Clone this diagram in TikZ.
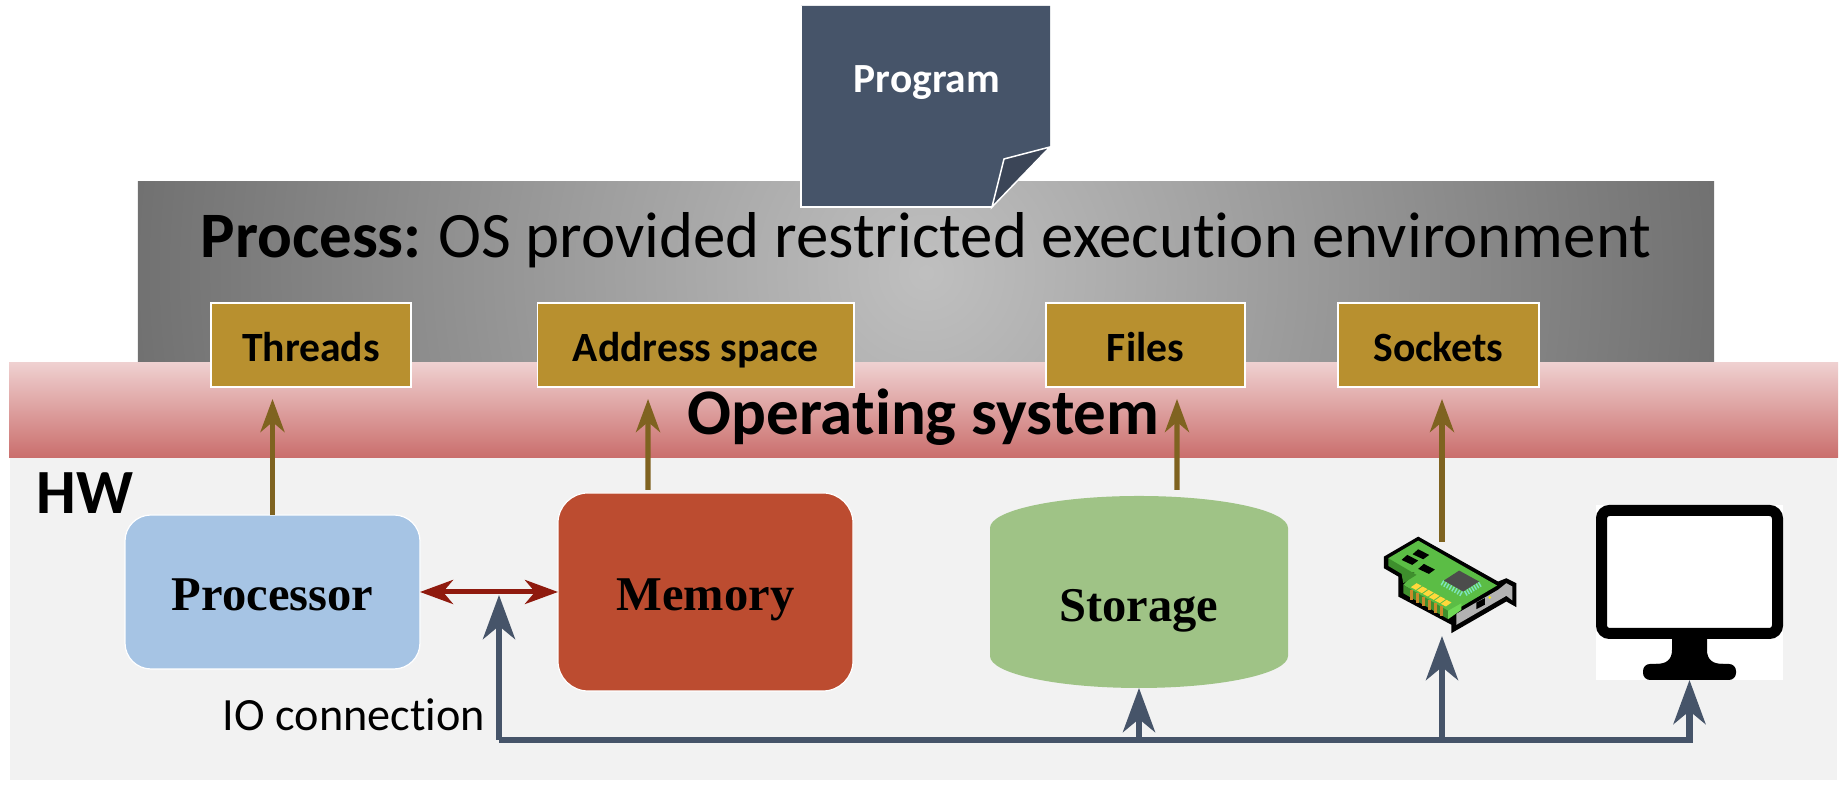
\documentclass[tikz,border=0pt]{standalone}
\usepackage{fontspec}
\usepackage{tikz}
\usetikzlibrary{arrows.meta}

\setmainfont{Carlito}[Ligatures=NoCommon]
\newfontfamily\hwserif{Liberation Serif}

\definecolor{noteblue}{HTML}{465469}
\definecolor{foldblue}{HTML}{3B4557}
\definecolor{gatebrown}{HTML}{7F6320}
\definecolor{gategold}{HTML}{B8902F}
\definecolor{linkred}{HTML}{8F1A0E}
\definecolor{ostop}{HTML}{EFD0D0}
\definecolor{osbottom}{HTML}{CA6E6C}
\definecolor{hwgrey}{HTML}{F2F2F2}
\definecolor{procblue}{HTML}{A6C4E4}
\definecolor{memred}{HTML}{BC4C30}
\definecolor{diskgreen}{HTML}{9FC386}
\definecolor{nicgreen}{HTML}{5BBD45}
\definecolor{nicdark}{HTML}{3E8F2D}
\definecolor{niclight}{HTML}{6FD855}
\definecolor{nicpin}{HTML}{7FE5C0}
\definecolor{nicgold}{HTML}{FFD83B}
\definecolor{nicorange}{HTML}{C88A2A}

\tikzset{
  plainbox/.style={inner sep=0, outer sep=0},
  gatebox/.style={plainbox, fill=gategold, draw=white, line width=0.015cm, minimum height=0.84cm,
    text height=0.44cm, text depth=0.10cm, font=\fontsize{11.85}{14}\selectfont\bfseries},
  hwbox/.style={plainbox, draw=white, line width=0.012cm, text height=0.48cm, text depth=0.10cm,
    font=\fontsize{13.8}{16}\selectfont\hwserif\bfseries},
  baselabel/.style={inner sep=0, anchor=base},
  gatelink/.style={draw=gatebrown, line width=0.053cm, -{Stealth[length=0.33cm, width=0.24cm, inset=0.10cm]}},
  memlink/.style={draw=linkred, line width=0.05cm, {Stealth[length=0.33cm, width=0.24cm, inset=0.10cm]}-{Stealth[length=0.33cm, width=0.24cm, inset=0.10cm]}},
  iolink/.style={draw=noteblue, line width=0.065cm, -{Stealth[length=0.44cm, width=0.32cm, inset=0.13cm]}}
}

\begin{document}
\begin{tikzpicture}

\useasboundingbox ( 0, 0 ) rectangle ( 18.46, 7.86 );

% Process
\node (process) at ( 9.26, 5.135 ) [plainbox, minimum width=15.76cm, minimum height=1.81cm,
  path picture={\shade [inner color=black!25, outer color=black!56] (path picture bounding box.center) circle (8cm);}] {};

% Hardware and OS bands
\node (hwband) at ( 9.235, 1.67 ) [plainbox, fill=hwgrey, minimum width=18.27cm, minimum height=3.22cm] {};
\node (osband) at ( 9.235, 3.755 ) [plainbox, top color=ostop, bottom color=osbottom, minimum width=18.29cm, minimum height=0.95cm] {};

% Program note
\fill [noteblue] ( 8.01, 5.79 ) -- ( 8.01, 7.80 ) -- ( 10.50, 7.80 ) -- ( 10.50, 6.39 ) -- ( 9.92, 5.79 ) -- cycle;
\draw [white, line width=0.02cm] ( 8.01, 7.80 ) -- ( 8.01, 5.79 ) -- ( 9.92, 5.79 );
\filldraw [fill=foldblue, draw=white, line width=0.015cm] ( 9.92, 5.79 ) -- ( 10.04, 6.27 ) -- ( 10.50, 6.39 ) -- cycle;
\node (program) at ( 9.27, 6.93 ) [baselabel, text=white, font=\fontsize{11.8}{14}\selectfont\bfseries] {Program};

% Labels on the bands
\node (processlabel) at ( 9.26, 5.28 ) [baselabel, font=\fontsize{18.45}{22}\selectfont] {\textbf{Process:}\hspace{-0.03cm} OS provided restricted execution environment};
\node (oslabel) at ( 9.235, 3.51 ) [baselabel, font=\fontsize{18.5}{22}\selectfont\bfseries] {Operating system};
\node (hwlabel) at ( 0.85, 2.72 ) [baselabel, font=\fontsize{17.9}{20}\selectfont\bfseries] {HW};

% Process resources
\node (threads) at ( 3.11, 4.41 ) [gatebox, minimum width=2.00cm] {Threads};
\node (address) at ( 6.958, 4.41 ) [gatebox, minimum width=3.165cm] {Address space};
\node (files) at ( 11.455, 4.41 ) [gatebox, minimum width=1.99cm] {Files};
\node (sockets) at ( 14.385, 4.41 ) [gatebox, minimum width=2.01cm] {Sockets};

% Hardware
\node (processor) at ( 2.725, 1.94 ) [hwbox, fill=procblue, minimum width=2.95cm, minimum height=1.54cm, rounded corners=0.26cm] {Processor};
\node (memory) at ( 7.055, 1.94 ) [hwbox, fill=memred, minimum width=2.95cm, minimum height=1.98cm, rounded corners=0.30cm] {Memory};
\fill [diskgreen] ( 9.90, 2.58 ) arc [start angle=180, end angle=0, x radius=1.49, y radius=0.32] -- ( 12.88, 1.30 ) arc [start angle=0, end angle=-180, x radius=1.49, y radius=0.32] -- cycle;
\node (storage) at ( 11.39, 1.94 ) [plainbox, minimum width=2.98cm, minimum height=1.92cm] {};
\node (storagelabel) at ( 11.39, 1.64 ) [baselabel, font=\fontsize{13.8}{16}\selectfont\hwserif\bfseries] {Storage};
\node (iolabel) at ( 3.54, 0.55 ) [baselabel, font=\fontsize{13.15}{16}\selectfont] {IO connection};

% Network card
\node (nic) at ( 14.42, 1.97 ) [plainbox, minimum width=1.0cm, minimum height=0.94cm] {};
\begin{scope}[shift={( 13.70, 2.56 )}, x=0.003333cm, y=-0.003333cm]
\fill [black] ( 42, 80 ) -- ( 145, 20 ) -- ( 385, 155 ) -- ( 410, 145 ) -- ( 440, 160 ) -- ( 440, 232 ) -- ( 410, 215 ) -- ( 245, 310 ) -- ( 245, 285 ) -- ( 85, 200 ) -- ( 85, 140 ) -- ( 42, 115 ) -- cycle;
\fill [nicgreen] ( 55, 85 ) -- ( 145, 32 ) -- ( 382, 167 ) -- ( 262, 238 ) -- ( 232, 250 ) -- ( 100, 165 ) -- ( 135, 128 ) -- ( 95, 128 ) -- cycle;
\fill [nicdark] ( 55, 85 ) -- ( 55, 108 ) -- ( 95, 132 ) -- ( 100, 160 ) -- ( 140, 135 ) -- cycle;
\fill [nicdark] ( 100, 165 ) -- ( 100, 190 ) -- ( 235, 268 ) -- ( 235, 243 ) -- cycle;
\fill [niclight] ( 235, 243 ) -- ( 275, 220 ) -- ( 275, 240 ) -- ( 235, 268 ) -- cycle;
\foreach \slotx/\sloty in { 128/73, 95/90, 145/117 } {
  \fill [black] ( \slotx, \sloty ) -- ++( 17, -15 ) -- ++( 33, 17 ) -- ++( -18, 13 ) -- cycle;
}
\foreach \pinstep in { 0, 1, ..., 5 } {
  \fill [nicorange] ( 120 + \pinstep * 18, 180 + \pinstep * 10 ) rectangle ++( 8, 30 );
  \fill [nicgold] ( 123 + \pinstep * 18, 172 + \pinstep * 10 ) -- ++( 17, -12 ) -- ++( 15, 8 ) -- ++( -17, 12 ) -- cycle;
}
\foreach \pinstep in { 0, 1, ..., 7 } {
  \draw [nicpin, line width=0.014cm] ( 222 + \pinstep * 8, 152 + \pinstep * 4.6 ) -- ++( -8, 14 );
}
\foreach \pinstep in { 0, 1, ..., 6 } {
  \draw [nicpin, line width=0.014cm] ( 284 + \pinstep * 7, 183 - \pinstep * 4.4 ) -- ++( 8, 14 );
}
\fill [black!70] ( 222, 152 ) -- ( 268, 122 ) -- ( 328, 155 ) -- ( 280, 185 ) -- cycle;
\fill [black!30] ( 260, 252 ) -- ( 385, 180 ) -- ( 410, 160 ) -- ( 428, 170 ) -- ( 428, 212 ) -- ( 410, 198 ) -- ( 260, 285 ) -- cycle;
\fill [black] ( 320, 218 ) -- ( 345, 205 ) -- ( 345, 225 ) -- ( 320, 238 ) -- cycle;
\fill [yellow] ( 360, 203 ) circle [radius=4];
\end{scope}

% Monitor
\node (monitorback) at ( 16.895, 1.935 ) [plainbox, fill=white, minimum width=1.87cm, minimum height=1.75cm] {};
\node (monitor) at ( 16.895, 2.14 ) [plainbox, draw=black, fill=white, line width=0.11cm, rounded corners=0.08cm, minimum width=1.76cm, minimum height=1.23cm] {};
\fill [black] ( 16.72, 1.47 ) -- ( 16.72, 1.36 ) .. controls ( 16.72, 1.26 ) and ( 16.66, 1.22 ) .. ( 16.56, 1.22 ) -- ( 17.23, 1.22 ) .. controls ( 17.13, 1.22 ) and ( 17.07, 1.26 ) .. ( 17.07, 1.36 ) -- ( 17.07, 1.47 ) -- cycle;
\fill [black, rounded corners=0.07cm] ( 16.43, 1.06 ) rectangle ( 17.36, 1.22 );

% Resource links
\draw [gatelink, shorten >=0.12cm] (processor.north) -- (processor.north |- threads.south);
\draw [gatelink, shorten >=0.12cm, shorten <=0.03cm] ([xshift=-5.75mm]memory.north) -- ([xshift=-4.775mm]address.south);
\draw [gatelink, shorten >=0.12cm] ([xshift=3.8mm, yshift=0.6mm]storage.north) -- ([xshift=3.15mm]files.south);
\draw [gatelink, shorten >=0.12cm] (nic.north) -- (nic.north |- sockets.south);

% Processor to memory
\draw [memlink] (processor.east) -- (memory.west);

% IO connection
\coordinate (busleft) at ( 4.99, 0.46 );
\coordinate (iotap) at ( 4.99, 1.91 );
\draw [iolink] (busleft) -- (iotap);
\draw [iolink] (busleft) -- (monitorback.south |- busleft) -- (monitorback.south);
\draw [iolink] (storage.south |- busleft) -- (storage.south);
\draw [iolink] (nic.south |- busleft) -- (nic.south);

\end{tikzpicture}
\end{document}
